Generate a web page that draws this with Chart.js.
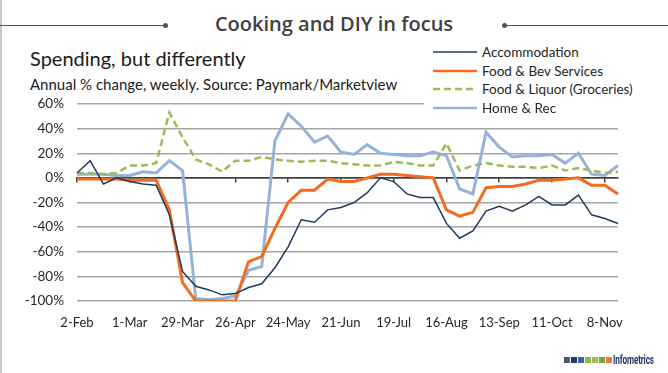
<!DOCTYPE html>
<html>
<head>
<meta charset="utf-8">
<script src="https://cdn.jsdelivr.net/npm/chart.js@4/dist/chart.umd.min.js"></script>
<style>
    html, body { margin: 0; padding: 0; background: #fff; }
    body { width: 668px; height: 373px; position: relative; overflow: hidden; font-family: Lato, sans-serif; }
    #frame { position: absolute; left: 0; top: 0; width: 2px; height: 373px; background: #c8c8c8; }
    #chartWrap { position: absolute; left: 0; top: 0; width: 668px; height: 373px; }
    .rule { position: absolute; top: 25px; height: 1px; background: #44546a; }
    .dot { position: absolute; top: 23px; width: 5px; height: 5px; border-radius: 50%; background: #44546a; }
    #title { position: absolute; left: 0; width: 668px; top: 10px; text-align: center; font-family: "Open Sans", sans-serif; font-weight: 600; font-size: 20px; color: #404040; }
    #subtitle { position: absolute; left: 30px; top: 46px; font-size: 20px; color: #1a1a1a; }
    #source { position: absolute; left: 30px; top: 75px; font-size: 15px; color: #1a1a1a; }
    #legend { position: absolute; left: 424px; top: 42px; width: 244px; height: 74px; background: #fff; }
    .item { position: absolute; left: 9px; height: 18px; font-size: 13.5px; color: #262626; line-height: 18px; }
    .item svg { position: absolute; left: 0; top: 0; }
    .item span { position: absolute; left: 49px; white-space: nowrap; }
    #logo { position: absolute; left: 564px; top: 348px; height: 12px; white-space: nowrap; }
    #logo i { display: inline-block; width: 6px; height: 6px; margin-right: 1px; vertical-align: middle; }
    #logo b { display: inline-block; font-family: Roboto, sans-serif; font-size: 12px; color: #1f3864; vertical-align: middle; transform: scaleX(0.68); transform-origin: left center; letter-spacing: -0.2px; }
</style>
</head>
<body>
<div id="frame"></div>
<div class="rule" style="left:0;width:166px"></div><div class="dot" style="left:163px"></div>
<div class="rule" style="left:505px;width:163px"></div><div class="dot" style="left:502px"></div>
<div id="title">Cooking and DIY in focus</div>
<div id="subtitle">Spending, but differently</div>
<div id="source">Annual % change, weekly. Source: Paymark/Marketview</div>
<div id="chartWrap"><canvas id="spendChart" width="668" height="373"></canvas></div>
<div id="legend"></div>
<div id="logo"><i style="background:#4a5a78"></i><i style="background:#1f3864"></i><i style="background:#3a64a8"></i><i style="background:#8cb84a"></i><i style="background:#9bc253"></i><i style="background:#77a33c"></i><i style="background:#ee7a30"></i><b>Infometrics</b></div>
<script>
const weeks = ['2-Feb', '9-Feb', '16-Feb', '23-Feb', '1-Mar', '8-Mar', '15-Mar', '22-Mar', '29-Mar',
    '5-Apr', '12-Apr', '19-Apr', '26-Apr', '3-May', '10-May', '17-May', '24-May', '31-May',
    '7-Jun', '14-Jun', '21-Jun', '28-Jun', '5-Jul', '12-Jul', '19-Jul', '26-Jul', '2-Aug',
    '9-Aug', '16-Aug', '23-Aug', '30-Aug', '6-Sep', '13-Sep', '20-Sep', '27-Sep', '4-Oct',
    '11-Oct', '18-Oct', '25-Oct', '1-Nov', '8-Nov', '15-Nov'];

const accommodation = [4, 14, -5, 0, -3, -5, -6, -30, -76, -88, -91, -95, -94, -89, -86, -73, -56, -34, -36, -26, -24,
    -20, -12, 0, -3, -13, -16, -16, -37, -49, -43, -27, -23, -27, -22, -15, -22, -22, -14, -30, -33, -37];
const foodBev = [-1, -1, -1, -1, -2, -2, -2, -26, -85, -100, -100, -100, -100, -68, -64, -41, -20, -10, -10, -1, -3,
    -3, 0, 3, 3, 2, 1, 0, -26, -31, -28, -8, -7, -7, -5, -2, -2, -1, 0, -6, -6, -13];
const groceries = [4, 4, 3, 4, 10, 10, 12, 53, 33, 15, 11, 5, 14, 14, 17, 15, 14, 13, 14, 14, 12,
    11, 10, 10, 13, 12, 10, 10, 28, 6, 10, 12, 10, 9, 9, 8, 10, 6, 8, 6, 4, 5];
const homeRec = [3, 3, 3, 2, 2, 5, 4, 14, 6, -98, -99, -98, -96, -75, -72, 30, 52, 42, 29, 34, 21,
    19, 27, 20, 19, 18, 18, 21, 18, -9, -13, 37, 25, 17, 18, 18, 19, 12, 20, 3, 2, 10];

const seriesNames = ['Accommodation', 'Food & Bev Services', 'Food & Liquor (Groceries)', 'Home & Rec'];
const yTicks = [60, 40, 20, 0, -20, -40, -60, -80, -100];

const tickEvery = 4;
const axisDark = '#404040';
const gridGrey = '#a6a6a6';

const datasets = [
    { label: seriesNames[0], data: accommodation, borderColor: '#1f3b5c', borderWidth: 1.5 },
    { label: seriesNames[1], data: foodBev, borderColor: '#f26b21', borderWidth: 3 },
    { label: seriesNames[2], data: groceries, borderColor: '#9bbb59', borderWidth: 2.5, borderDash: [7, 4] },
    { label: seriesNames[3], data: homeRec, borderColor: '#95b3d7', borderWidth: 3 }
].map(ds => Object.assign(ds, { pointRadius: 0, tension: 0, fill: false }));

const chart = new Chart(document.getElementById('spendChart'), {
    type: 'line',
    data: { labels: weeks, datasets: datasets },
    options: {
        responsive: false,
        animation: false,
        layout: { padding: { top: 104, right: 50, left: 0, bottom: 0 } },
        plugins: { legend: { display: false }, tooltip: { enabled: false } },
        scales: {
            x: {
                type: 'category',
                position: 'bottom',
                grid: { display: false, drawTicks: false },
                border: { display: false },
                ticks: {
                    autoSkip: false, maxRotation: 0, padding: 14,
                    color: '#262626', font: { family: 'Lato', size: 13 },
                    callback: (v, i) => (i % tickEvery === 0 ? weeks[i] : null)
                },
                afterFit: (s) => { s.height = 72; }
            },
            // zero line with the small tick marks, like the excel axis crossing at 0%
            x2: {
                type: 'category',
                position: { y: 0 },
                grid: { drawOnChartArea: false, drawTicks: true, tickLength: 4, color: axisDark, lineWidth: 1.5 },
                border: { display: true, color: axisDark, width: 1.5 },
                ticks: {
                    autoSkip: false, maxRotation: 0, color: 'rgba(0,0,0,0)',
                    callback: (v, i) => (i % tickEvery === 0 ? '' : null)
                }
            },
            y: {
                min: yTicks[yTicks.length - 1],
                max: yTicks[0],
                afterBuildTicks: (s) => { s.ticks = yTicks.map(v => ({ value: v })); },
                grid: {
                    drawTicks: false,
                    lineWidth: 1.5,
                    color: (c) => (c.tick && c.tick.value === 0 ? axisDark : gridGrey)
                },
                border: { display: false },
                ticks: {
                    padding: 13, color: '#262626', font: { family: 'Lato', size: 13.5 },
                    callback: (v) => v + '%'
                },
                afterFit: (s) => { s.width = 77; }
            }
        }
    }
});

// legend built from the chart's own datasets
const legendEl = document.getElementById('legend');
chart.data.datasets.forEach((ds, i) => {
    const row = document.createElement('div');
    row.className = 'item';
    row.style.top = (1 + i * 18.5) + 'px';
    const dash = ds.borderDash ? 'stroke-dasharray="' + ds.borderDash.join(',') + '"' : '';
    row.innerHTML = '<svg width="44" height="18"><line x1="0" y1="9" x2="44" y2="9" stroke="' + ds.borderColor +
        '" stroke-width="' + Math.min(ds.borderWidth, 2.5) + '" ' + dash + '/></svg><span></span>';
    row.querySelector('span').textContent = ds.label;
    legendEl.appendChild(row);
});
</script>
</body>
</html>
